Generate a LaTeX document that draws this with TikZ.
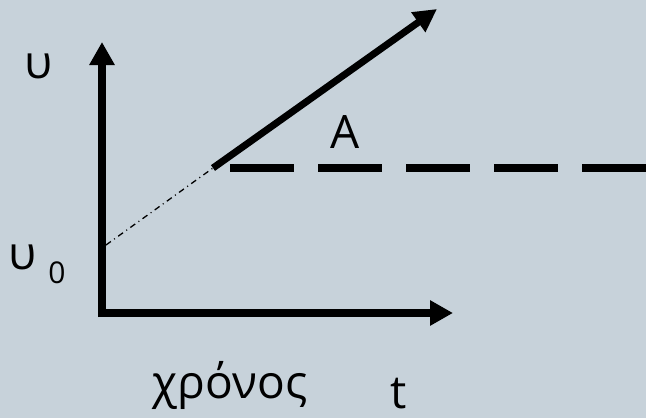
\documentclass[tikz,border=0pt]{standalone}
\usepackage{fontspec}
\setmainfont{Open Sans}
\usepackage{xcolor}
\usetikzlibrary{arrows.meta}
\definecolor{slidebg}{RGB}{199,210,218}

\begin{document}
\begin{tikzpicture}[
  x=1pt, y=-1pt,
  axis/.style={line width=7.5pt, -{Triangle[width=24pt, length=23pt]}},
  growth/.style={line width=7pt, -{Triangle[width=23pt, length=23pt]}},
  level/.style={line width=8pt, dash pattern=on 64pt off 24pt},
  extrap/.style={line width=1.3pt, dash pattern=on 6pt off 4pt on 1pt off 4pt},
  lbl/.style={font=\fontsize{46}{50}\selectfont, inner sep=0pt, anchor=base},
  sub/.style={font=\fontsize{30}{34}\selectfont, inner sep=0pt, anchor=base}
]
\fill[slidebg] (0,0) rectangle (646,418);
\useasboundingbox (0,0) rectangle (646,418);

% axes
\coordinate (origin) at (102,317);
\coordinate (ytop) at (102,42);
\coordinate (xorigin) at (98,313);
\coordinate (xright) at (453,313);
\draw[axis] (origin) -- (ytop);
\draw[axis] (xorigin) -- (xright);

% line and its extension back to the axis
\coordinate (vstart) at (106,245);
\coordinate (knee) at (213,168);
\coordinate (tip) at (437,9);
\draw[extrap] (vstart) -- (knee);
\draw[growth] (knee) -- (tip);

% constant level
\coordinate (lvlstart) at (230,168);
\coordinate (lvlend) at (646,168);
\draw[level] (lvlstart) -- (lvlend);

% labels
\node[lbl] (ylabel) at (39,78) {υ};
\node[lbl] (vzero) at (22.5,269) {υ};
\node[sub] (vzerosub) at (57,283) {0};
\node[lbl] (angle) at (345,148) {A};
\node[lbl] (xword) at (230,398) {χρόνος};
\node[lbl] (tlabel) at (399,408) {t};
\end{tikzpicture}
\end{document}
